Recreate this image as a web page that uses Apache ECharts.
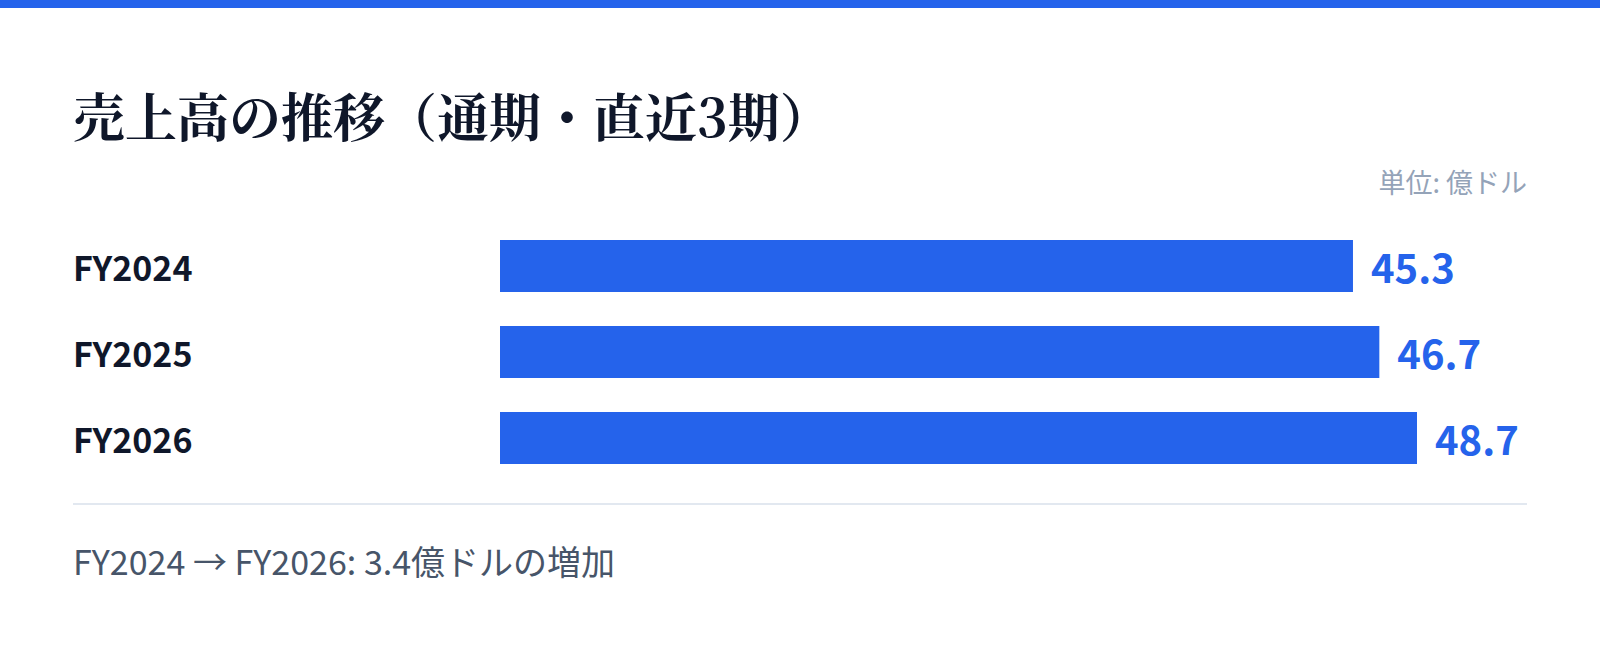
<!DOCTYPE html>
<html>
<head>
<meta charset="utf-8">
<script src="https://cdn.jsdelivr.net/npm/echarts@6/dist/echarts.min.js"></script>
<style>
  html, body { margin: 0; padding: 0; background: #ffffff; }
  #chart { width: 1600px; height: 647px; }
</style>
</head>
<body>
<div id="chart"></div>
<script>
const categories = ['FY2024', 'FY2025', 'FY2026'];
const revenue = [45.3, 46.7, 48.7];
const titleText = '売上高の推移（通期・直近3期）';
const unitText = '単位: 億ドル';
const footerText = 'FY2024 → FY2026: 3.4億ドルの増加';

const FONT = '"Noto Sans CJK JP", "Noto Sans", sans-serif';
const chart = echarts.init(document.getElementById('chart'), null, { renderer: 'svg' });

chart.setOption({
  backgroundColor: '#ffffff',
  animation: false,
  grid: { left: 500, right: 183, top: 223, height: 258, containLabel: false },
  xAxis: {
    type: 'value', min: 0, max: 'dataMax',
    show: false
  },
  yAxis: {
    type: 'category', data: categories, inverse: true,
    axisLine: { show: false }, axisTick: { show: false }, splitLine: { show: false },
    axisLabel: {
      align: 'left', margin: 427,
      fontFamily: FONT, fontSize: 34, fontWeight: 'bold', color: '#0f172a'
    }
  },
  series: [{
    type: 'bar', data: revenue, barWidth: 52,
    itemStyle: { color: '#2563eb' },
    label: {
      show: true, position: 'right', distance: 18,
      fontFamily: FONT, fontSize: 40, fontWeight: 'bold', color: '#2563eb'
    }
  }],
  graphic: [
    { type: 'rect', left: 0, top: 0, shape: { x: 0, y: 0, width: 1600, height: 8 }, style: { fill: '#2563eb' } },
    { type: 'text', x: 73, y: 114, style: { text: titleText, font: 'bold 52px "Noto Serif CJK JP", "Noto Sans CJK JP", serif', fill: '#0f172a', textAlign: 'left', textVerticalAlign: 'middle' } },
    { type: 'text', x: 1527, y: 181, style: { text: unitText, font: '27px ' + FONT, fill: '#94a3b8', textAlign: 'right', textVerticalAlign: 'middle' } },
    { type: 'line', shape: { x1: 73, y1: 504, x2: 1527, y2: 504 }, style: { stroke: '#e2e8f0', lineWidth: 2 } },
    { type: 'text', x: 73, y: 560, style: { text: footerText, font: '34px ' + FONT, fill: '#475569', textAlign: 'left', textVerticalAlign: 'middle' } }
  ]
});
</script>
</body>
</html>
